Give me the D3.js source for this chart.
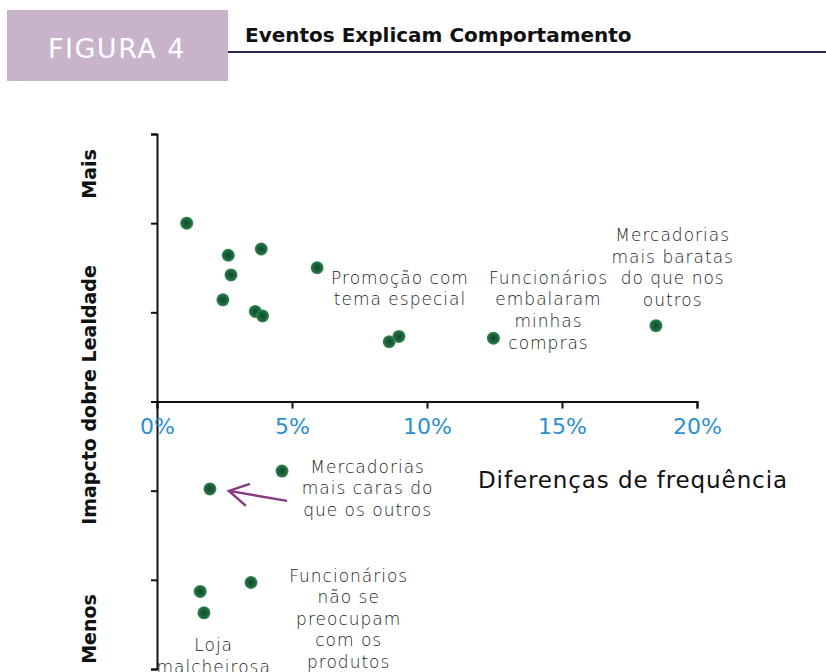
<!doctype html>
<html lang="pt">
<head>
<meta charset="utf-8">
<title>Eventos Explicam Comportamento</title>
<script src="https://d3js.org/d3.v7.min.js"></script>
<style>
  body { margin: 0; background: #fff; }
  svg { display: block; font-family: "DejaVu Sans", sans-serif; }
</style>
</head>
<body>
<svg id="chart" width="826" height="672"></svg>
<script>
// frequency difference (%) and impact on loyalty for each event
const freqDiff = [1.1, 2.64, 3.86, 2.74, 5.93, 2.44, 3.64, 3.91, 8.6, 8.96, 12.46, 18.48, 4.63, 1.96, 3.48, 1.6, 1.74];
const impact   = [2.0, 1.64, 1.71, 1.42, 1.5, 1.14, 1.01, 0.96, 0.67, 0.73, 0.71, 0.85, -0.78, -0.98, -2.03, -2.13, -2.37];

const xTicks = [0, 5, 10, 15, 20];
const yTicks = [-3, -2, -1, 0, 1, 2, 3];

// annotation texts, anchored in data coordinates
const noteLines = [
  ["Promoção com", "tema especial"],
  ["Funcionários", "embalaram", "minhas", "compras"],
  ["Mercadorias", "mais baratas", "do que nos", "outros"],
  ["Mercadorias", "mais caras do", "que os outros"],
  ["Funcionários", "não se", "preocupam", "com os", "produtos"],
  ["Loja", "malcheirosa"]
];
const noteX = [9.0, 14.5, 19.1, 7.8, 7.1, 2.1];
const noteY = [1.32, 1.32, 1.8, -0.8, -2.02, -2.8];

const svg = d3.select("#chart");

// header
svg.append("rect").attr("x", 7).attr("y", 10).attr("width", 221).attr("height", 71).attr("fill", "#c9b3cb");
svg.append("text").attr("x", 117).attr("y", 58).attr("text-anchor", "middle")
  .attr("fill", "#fff").attr("font-size", 27).attr("letter-spacing", 1.5).text("FIGURA 4");
svg.append("text").attr("x", 245).attr("y", 42).attr("font-weight", "bold")
  .attr("font-size", 20).attr("fill", "#111").text("Eventos Explicam Comportamento");
svg.append("line").attr("x1", 228).attr("x2", 826).attr("y1", 52).attr("y2", 52)
  .attr("stroke", "#2a2550").attr("stroke-width", 2);

const x = d3.scaleLinear().domain([0, 20]).range([157, 697]);
const y = d3.scaleLinear().domain([-3, 3]).range([669, 134]);

// y axis (no labels)
const yAxis = svg.append("g").attr("transform", `translate(${x(0)},0)`)
  .call(d3.axisLeft(y).tickValues(yTicks).tickFormat("").tickSizeOuter(0).tickSize(6));
yAxis.select(".domain").attr("stroke", "#111").attr("stroke-width", 2);
yAxis.selectAll(".tick line").attr("stroke", "#111").attr("stroke-width", 2);

// x axis at zero
const xAxis = svg.append("g").attr("transform", `translate(0,${y(0)})`)
  .call(d3.axisBottom(x).tickValues(xTicks).tickFormat(d => d + "%").tickSizeOuter(0).tickSize(7));
xAxis.select(".domain").attr("stroke", "#111").attr("stroke-width", 2);
xAxis.selectAll(".tick text").attr("fill", "#2a8fd0").attr("font-size", 22)
  .attr("font-family", "'DejaVu Sans', sans-serif").attr("dy", "1.0em");
xAxis.selectAll(".tick line").attr("stroke", "#111").attr("stroke-width", 2);

// axis titles
const yt = svg.append("g").attr("font-size", 19).attr("font-weight", "bold").attr("fill", "#111")
  .attr("text-anchor", "middle");
yt.append("text").attr("transform", "translate(96,395) rotate(-90)").text("Imapcto dobre Lealdade");
yt.append("text").attr("transform", "translate(96,174) rotate(-90)").text("Mais");
yt.append("text").attr("transform", "translate(96,629) rotate(-90)").text("Menos");
svg.append("text").attr("x", 478).attr("y", 488)
  .attr("font-size", 23).attr("fill", "#111").attr("letter-spacing", 0.9).text("Diferenças de frequência");

// points
const grad = svg.append("defs").append("radialGradient").attr("id", "dot");
grad.append("stop").attr("offset", "0%").attr("stop-color", "#0f4a2a");
grad.append("stop").attr("offset", "70%").attr("stop-color", "#1d6b3d");
grad.append("stop").attr("offset", "100%").attr("stop-color", "#3f8a5a");

svg.append("g").selectAll("circle").data(freqDiff).join("circle")
  .attr("cx", d => x(d))
  .attr("cy", (d, i) => y(impact[i]))
  .attr("r", 6.5)
  .attr("fill", "url(#dot)");

// annotations
const notes = svg.append("g").attr("font-size", 17).attr("fill", "#222").attr("font-weight", 300)
  .attr("letter-spacing", 1.0).attr("text-anchor", "middle");
noteLines.forEach((lines, i) => {
  const t = notes.append("text").attr("x", x(noteX[i])).attr("y", y(noteY[i]));
  lines.forEach((s, j) => t.append("tspan").attr("x", x(noteX[i])).attr("dy", j ? 21.6 : 0).text(s));
});

// arrow pointing at "mais caras" point
const tip = [x(freqDiff[13]) + 19, y(impact[13]) + 2];
svg.append("path")
  .attr("d", `M${tip[0] + 58},${tip[1] + 10}L${tip[0]},${tip[1]}M${tip[0] + 21},${tip[1] - 7}L${tip[0]},${tip[1]}L${tip[0] + 17},${tip[1] + 15}`)
  .attr("fill", "none").attr("stroke", "#8a3a80").attr("stroke-width", 2.5);
</script>
</body>
</html>
